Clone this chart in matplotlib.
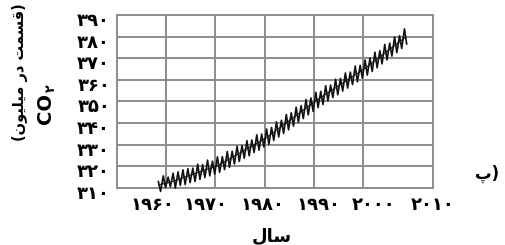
"""
CO2 concentration chart (Persian labels), Mauna Loa style sawtooth
"""
import matplotlib
matplotlib.use('Agg')
import matplotlib.pyplot as plt
import matplotlib.transforms as mtransforms

# data
years = list(range(1958, 2009))
trend = [311.5, 312.0, 312.5, 313.2, 314.0, 314.8, 315.6, 316.4, 317.2, 318.0,
         318.8, 319.6, 320.5, 321.7, 323.0, 324.3, 325.6, 326.9, 328.2, 329.5,
         330.8, 332.1, 333.5, 335.2, 336.9, 338.6, 340.3, 342.0, 343.7, 345.4,
         347.1, 348.8, 350.5, 352.0, 353.5, 355.0, 356.5, 358.0, 359.5, 361.0,
         362.5, 364.0, 365.5, 367.3, 369.0, 370.8, 372.5, 374.3, 376.0, 377.8,
         379.5]
peaks = [313.0, 315.6, 315.0, 316.9, 317.5, 318.4, 318.9, 319.2, 321.0, 320.8,
         322.9, 322.4, 324.4, 324.5, 326.9, 327.0, 329.3, 329.6, 331.9, 332.2,
         334.6, 335.0, 337.3, 338.0, 340.6, 341.3, 344.0, 344.8, 347.4, 348.1,
         350.9, 351.6, 354.2, 354.7, 357.3, 357.6, 360.3, 360.7, 363.2, 363.6,
         366.4, 366.7, 369.2, 370.1, 372.8, 373.5, 376.4, 377.0, 379.8, 380.4,
         383.6]
troughs = [308.4, 310.3, 310.6, 310.0, 311.2, 311.6, 312.5, 313.0, 314.0, 314.8,
           315.6, 316.4, 317.2, 318.5, 319.6, 321.1, 322.3, 323.8, 324.9, 326.4,
           327.5, 328.9, 330.2, 332.0, 333.6, 335.2, 336.9, 338.6, 340.4, 342.1,
           343.8, 345.4, 347.2, 348.6, 350.3, 351.8, 353.1, 354.8, 356.2, 357.8,
           359.1, 360.8, 362.2, 363.9, 365.6, 367.4, 369.2, 371.0, 372.6, 374.5,
           376.6]

y_ticks = [310, 320, 330, 340, 350, 360, 370, 380, 390]
y_labels = ['۳۱۰', '۳۲۰', '۳۳۰', '۳۴۰', '۳۵۰', '۳۶۰', '۳۷۰', '۳۸۰', '۳۹۰']
x_grid = [1960, 1970, 1980, 1990, 2000]
x_labels = ['۱۹۶۰', '۱۹۷۰', '۱۹۸۰', '۱۹۹۰', '۲۰۰۰', '۲۰۱۰']
# where the year labels sit in the picture (they drift off the grid)
x_label_pos = [1957.2, 1968.0, 1979.6, 1991.0, 2002.2, 2014.2]

# Persian text in visual (left-to-right) order using presentation forms
ylabel_1 = '(\uFEE5\uFEEE\uFEF4\uFEE0\uFEF4\uFEE3 \uFEAD\uFEA9 \uFE96\uFEE4\uFEB4\uFED7)'
ylabel_2 = 'CO'
ylabel_sub = '۲'
xlabel = '\uFEDD\uFE8E\uFEB3'
panel = '\u067E)'

plt.rcParams['font.family'] = ['DejaVu Sans']
grid_color = '#8c8c8c'

fig = plt.figure(figsize=(5.05, 2.45), dpi=100)
ax = fig.add_axes([117 / 505, 1 - 188 / 245, 316 / 505, 173 / 245])

# zigzag: peak in spring, trough in autumn
zx, zy = [], []
for yr, p, t in zip(years, peaks, troughs):
    zx += [yr + 0.4, yr + 0.85]
    zy += [p, t]
ax.plot(zx, zy, color='#111111', linewidth=1.2, clip_on=False, zorder=3)
ax.plot([y + 0.5 for y in years], trend, color='#111111', linewidth=0.8,
        clip_on=False, zorder=3)

ax.set_xlim(1950, 2010)
ax.set_ylim(310, 390)

ax.set_yticks(y_ticks)
ax.set_yticklabels(y_labels, fontsize=13, fontweight='bold')
ax.set_xticks(x_grid, minor=True)
ax.set_xticks(x_label_pos)
ax.set_xticklabels(x_labels, fontsize=13, fontweight='bold')
ax.tick_params(axis='both', which='both', length=0)
ax.tick_params(axis='y', pad=5)
ax.tick_params(axis='x', pad=6)

# nudge y labels down a bit like in the picture
offset = mtransforms.ScaledTranslation(0, -4 / 100, fig.dpi_scale_trans)
for lab in ax.get_yticklabels():
    lab.set_transform(lab.get_transform() + offset)

ax.grid(axis='y', which='major', color=grid_color, linewidth=1.4)
ax.grid(axis='x', which='minor', color=grid_color, linewidth=1.4)
ax.grid(axis='x', which='major', visible=False)
for sp in ax.spines.values():
    sp.set_color(grid_color)
    sp.set_linewidth(1.4)

fig.text(20 / 505, 1 - 72 / 245, ylabel_1, rotation=90, ha='center', va='center',
         fontsize=10.5, fontweight='bold')
fig.text(46 / 505, 1 - 108 / 245, ylabel_2, rotation=90, ha='center', va='center',
         fontsize=14, fontweight='bold')
fig.text(51 / 505, 1 - 88 / 245, ylabel_sub, rotation=90, ha='center', va='center',
         fontsize=9, fontweight='bold')
fig.text(272 / 505, 1 - 236 / 245, xlabel, ha='center', va='center',
         fontsize=13, fontweight='bold')
fig.text(487 / 505, 1 - 174 / 245, panel, ha='center', va='center',
         fontsize=12, fontweight='bold')

plt.savefig('out.png', dpi=100)
